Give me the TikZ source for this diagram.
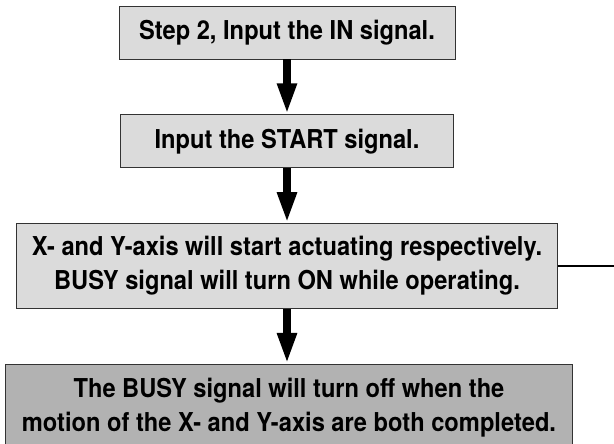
\documentclass[tikz,border=0pt]{standalone}
\usepackage{fontspec}
\setmainfont{TeX Gyre Heros}[FakeStretch=0.91]
\usetikzlibrary{arrows.meta,positioning}

\begin{document}
\begin{tikzpicture}[x=1pt,y=1pt,>={Triangle[length=31pt,width=18pt]},node distance=55pt,
	box/.style={draw=black!80,line width=0.8pt,fill=black!14,inner sep=0pt,align=center,
		font=\fontsize{26}{34}\selectfont\bfseries},
	flow/.style={->,line width=8.5pt}]
	\useasboundingbox (0,0) rectangle (614,444);
	\node[box,minimum width=336pt,minimum height=53pt] (step) at (287,411.5) {Step 2, Input the IN signal.};
	\node[box,minimum width=333pt,minimum height=53pt] (start) [below=of step] {Input the START signal.};
	\node[box,minimum width=541pt,minimum height=85pt] (move) [below=of start]
		{X- and Y-axis will start actuating respectively.\\ BUSY signal will turn ON while operating.};
	\node[box,fill=black!30,minimum width=567pt,minimum height=86pt] (done) [below=of move,xshift=2pt]
		{The BUSY signal will turn off when the\\ motion of the X- and Y-axis are both completed.};
	\coordinate (edge) at (614,181);

	\draw[flow] (step) -- (start);
	\draw[flow] (start) -- (move);
	\draw[flow] (move.south) -- (move.south |- done.north);
	% line leaving to the right
	\draw[line width=1.2pt] (move.east) -- (move.east -| edge);
\end{tikzpicture}
\end{document}
